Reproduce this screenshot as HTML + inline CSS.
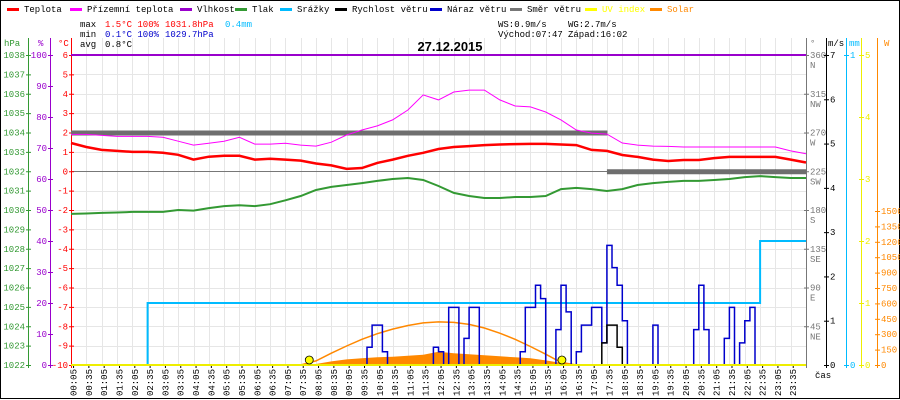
<!DOCTYPE html>
<html><head><meta charset="utf-8"><style>
html,body{margin:0;padding:0;background:#fff}
svg{display:block;font-family:"Liberation Mono",monospace;font-size:9px}
</style></head><body>
<svg id="chart" width="900" height="400" viewBox="0 0 900 400"></svg>
<script>
// ---------- data ----------
const halfHours = Array.from({length:49},(_,i)=>i*0.5); // category hours 0..24
const timeLabels = ["00:05","00:35","01:05","01:35","02:05","02:35","03:05","03:35","04:05","04:35","05:05","05:35","06:05","06:35","07:05","07:35","08:05","08:35","09:05","09:35","10:05","10:35","11:05","11:35","12:05","12:35","13:05","13:35","14:05","14:35","15:05","15:35","16:05","16:35","17:05","17:35","18:05","18:35","19:05","19:35","20:05","20:35","21:05","21:35","22:05","22:35","23:05","23:35"];
const temperature = [1.46,1.25,1.1,1.05,1.0,1.0,0.95,0.85,0.6,0.75,0.8,0.8,0.6,0.65,0.6,0.55,0.4,0.3,0.12,0.17,0.43,0.6,0.8,0.95,1.15,1.25,1.3,1.35,1.38,1.4,1.41,1.41,1.38,1.35,1.1,1.05,0.84,0.74,0.6,0.53,0.58,0.58,0.68,0.74,0.74,0.74,0.74,0.6,0.45];
const apparentTemp = [1.9,1.9,1.85,1.8,1.8,1.8,1.75,1.55,1.35,1.45,1.55,1.75,1.4,1.4,1.45,1.35,1.3,1.5,1.87,2.13,2.34,2.65,3.16,3.94,3.68,4.09,4.19,4.19,3.68,3.37,3.32,3.06,2.65,2.13,1.97,1.92,1.46,1.35,1.30,1.28,1.25,1.25,1.25,1.25,1.25,1.25,1.25,1.05,0.9];
const pressure = [1029.8,1029.82,1029.85,1029.87,1029.9,1029.9,1029.9,1030.0,1029.97,1030.1,1030.2,1030.25,1030.2,1030.3,1030.5,1030.72,1031.03,1031.19,1031.29,1031.39,1031.5,1031.6,1031.65,1031.55,1031.24,1030.88,1030.72,1030.62,1030.62,1030.67,1030.67,1030.72,1031.08,1031.14,1031.08,1030.98,1031.08,1031.29,1031.39,1031.45,1031.5,1031.5,1031.55,1031.6,1031.7,1031.75,1031.7,1031.65,1031.65];
const rain = [0,0,0,0,0,0.2,0.2,0.2,0.2,0.2,0.2,0.2,0.2,0.2,0.2,0.2,0.2,0.2,0.2,0.2,0.2,0.2,0.2,0.2,0.2,0.2,0.2,0.2,0.2,0.2,0.2,0.2,0.2,0.2,0.2,0.2,0.2,0.2,0.2,0.2,0.2,0.2,0.2,0.2,0.2,0.4,0.4,0.4,0.4];
const windDir = [270,270,270,270,270,270,270,270,270,270,270,270,270,270,270,270,270,270,270,270,270,270,270,270,270,270,270,270,270,270,270,270,270,270,270,225,225,225,225,225,225,225,225,225,225,225,225,225];
const solar = [0,0,0,0,0,0,0,0,0,0,0,0,0,0,0,0,10,35,55,65,75,80,90,100,130,115,105,95,85,75,65,45,20,5,0,0,0,0,0,0,0,0,0,0,0,0,0,0,0];
const solarTheory = [0,0,0,0,0,0,0,0,0,0,0,0,0,0,0,0,40,115,185,250,305,350,385,410,420,415,395,360,310,250,180,105,25,0,0,0,0,0,0,0,0,0,0,0,0,0,0,0,0];
const gustIdx = [58,59,60,61,71,72,74,75,77,78,79,88,89,90,91,92,95,96,97,99,100,101,102,103,104,105,106,107,108,114,122,123,124,128,129,131,132,133];
const gustVal = [0.4,0.9,0.9,0.3,0.4,0.3,1.3,1.3,0.6,1.3,1.3,0.3,1.3,1.3,1.8,1.5,0.8,1.8,1.2,0.3,0.9,0.9,1.3,1.3,0.5,2.7,2.2,1.8,1.0,0.9,0.8,1.8,0.8,0.6,1.3,0.5,1.0,1.3];
const speedIdx = [104,105,106,107];
const speedVal = [0.5,0.9,0.9,0.4];
const sunEvents = [7.78,16.03];

// ---------- scales ----------
const X0=71, X1=806, YT=55, YB=365;
const xH = h => X0 + h*(X1-X0)/24;
const yC = t => YT + (6-t)*(YB-YT)/16;
const yP = p => YB - (p-1022)*(YB-YT)/16;
const yPct = v => YB - v*(YB-YT)/100;
const yDeg = d => YB - d*(YB-YT)/360;
const yMs = v => YB - v*(YB-YT)/7;
const yMm = v => YB - v*(YB-YT)/1;
const yUv = v => YB - v*(YB-YT)/5;
const yW = v => YB - v*(365-211)/1500;

const svg=document.getElementById('chart');
const NS='http://www.w3.org/2000/svg';
function el(tag,attrs,parent){const e=document.createElementNS(NS,tag);for(const k in attrs)e.setAttribute(k,attrs[k]);(parent||svg).appendChild(e);return e;}
function txt(x,y,s,fill,anchor,parent){const t=el('text',{x:x,y:y,fill:fill,'text-anchor':anchor||'start'},parent);t.textContent=s;return t;}

// frame
let fr=el('rect',{x:0.5,y:0.5,width:899,height:398,fill:'#fff',stroke:'#000'});



// grid
const grid=el('g',{});


for(let k=1;k<48;k++){const x=Math.round(xH(k*0.5))+0.5;el('line',{x1:x,x2:x,y1:38,y2:YB,stroke:'#e6e6e6'},grid);}
for(let t=-9;t<=5;t++){const y=Math.round(yC(t))+0.5;el('line',{x1:X0,x2:X1,y1:y,y2:y,stroke:t===0?'#777':'#e6e6e6'},grid);}

// legend
const legend=[["Teplota","#f00",7],["Přízemní teplota","#f0f",70],["Vlhkost","#90c",180],["Tlak","#393",235],["Srážky","#0bf",280],["Rychlost větru","#000",335],["Náraz větru","#00c",430],["Směr větru","#777",510],["UV index","#ff0",585],["Solar","#f80",650]];
const lg=el('g',{});


legend.forEach(l=>{
  const g=el('g',{},lg);
  
  
  el('rect',{x:l[2],y:8,width:12,height:3,fill:l[1]},g);
  txt(l[2]+17,12,l[0],(l[1]==='#ff0'||l[1]==='#f80')?l[1]:'#000','start',g);
});

// stats
const st=el('g',{});


txt(80,27,"max","#000",'start',st);txt(105,27,"1.5°C 100%","#f00",'start',st);txt(165,27,"1031.8hPa","#f00",'start',st);txt(225,27,"0.4mm","#0bf",'start',st);
txt(80,37,"min","#000",'start',st);txt(105,37,"0.1°C 100%","#00c",'start',st);txt(165,37,"1029.7hPa","#00c",'start',st);
txt(80,47,"avg","#000",'start',st);txt(105,47,"0.8°C","#000",'start',st);
txt(498,27,"WS:0.9m/s","#000",'start',st);txt(568,27,"WG:2.7m/s","#000",'start',st);
txt(498,37,"Východ:07:47","#000",'start',st);txt(568,37,"Západ:16:02","#000",'start',st);
const ti=txt(450,51,"27.12.2015","#000",'middle');
ti.setAttribute('style','font-size:13px;font-weight:bold;font-family:"Liberation Sans",sans-serif');



// axes
function axis(name,x,color,ticks,yf,side,labels){
  const g=el('g',{});
  
  
  el('line',{x1:x+0.5,x2:x+0.5,y1:38,y2:YB+3,stroke:color},g);
  ticks.forEach((v,i)=>{const y=yf(v);el('line',{x1:x-2,x2:x+3,y1:y+0.5,y2:y+0.5,stroke:color},g);
    const s=labels?labels[i]:String(v);
    if(side==='l')txt(x-3,y+3,s,color,'end',g);else txt(x+4,y+3,s,color,'start',g);});
  return g;
}
const hpaTicks=[];for(let p=1022;p<=1038;p++)hpaTicks.push(p);
axis('pressure-axis',28,'#393',hpaTicks,yP,'l');
const pctTicks=[];for(let v=0;v<=100;v+=10)pctTicks.push(v);
axis('humidity-axis',50,'#90c',pctTicks,yPct,'l');
const cTicks=[];for(let t=-10;t<=6;t++)cTicks.push(t);
const ca=axis('temperature-axis',71,'#f00',cTicks,yC,'l');
const degTicks=[45,90,135,180,225,270,315,360];const dirNames=["NE","E","SE","S","SW","W","NW","N"];
const da=axis('direction-axis',806,'#777',degTicks,yDeg,'r');
degTicks.forEach((d,i)=>txt(810,yDeg(d)+13,dirNames[i],'#777','start',da));
axis('wind-speed-axis',826,'#000',[0,1,2,3,4,5,6,7],yMs,'r');
axis('rain-axis',846,'#0bf',[0,1],yMm,'r');
axis('uv-axis',861,'#ee0',[0,1,2,3,4,5],yUv,'r');
const wTicks=[];for(let w=0;w<=1500;w+=150)wTicks.push(w);
axis('solar-axis',877,'#f80',wTicks,yW,'r');
const units=[["hPa",4,'#393'],["%",38,'#90c'],["°C",58,'#f00'],["°",810,'#777'],["m/s",828,'#000'],["mm",849,'#0bf'],["W",884,'#f80']];
units.forEach(u=>{const t=txt(u[1],46,u[0],u[2]);});

// time axis
const ta=el('g',{});


timeLabels.forEach((s,i)=>{const x=xH(i*0.5+5/60);el('line',{x1:x,x2:x,y1:YB,y2:YB+3,stroke:'#000'},ta);
  const t=txt(0,0,s,'#000','end',ta);t.setAttribute('transform',`translate(${x+3},${YB+4}) rotate(-90)`);});
txt(815,378,"čas","#000",'start',ta);

// humidity line
let hl=el('line',{x1:X0,x2:X1,y1:yPct(100),y2:yPct(100),stroke:'#90c','stroke-width':2});



// wind direction bars
const wd=el('g',{});


windDir.forEach((d,i)=>{el('rect',{x:xH(i*0.5),y:yDeg(d)-2,width:xH(0.5)-xH(0)+0.5,height:5,fill:'#6e6e6e'},wd);});

function path(vals,xf,yf,color,w,name){
  const d=vals.map((v,i)=>(i?'L':'M')+xf(i).toFixed(1)+','+yf(v).toFixed(1)).join('');
  const p=el('path',{d:d,fill:'none',stroke:color,'stroke-width':w});
  
  
  return p;
}
// solar actual area
{
  let d='M'+xH(0)+','+YB;
  solar.forEach((v,i)=>{d+='L'+xH(halfHours[i]).toFixed(1)+','+yW(v).toFixed(1);});
  d+='L'+xH(24)+','+YB+'Z';
  const a=el('path',{d:d,fill:'#f80'});
  
  
}
path(solarTheory,i=>xH(halfHours[i]),yW,'#f80',1.5,'solar-theory-line');
// rain step
{
  let d='M'+xH(0)+','+yMm(rain[0]);
  rain.forEach((v,i)=>{if(i>0){d+='L'+xH(halfHours[i]).toFixed(1)+','+yMm(rain[i-1]).toFixed(1);}d+='L'+xH(halfHours[i]).toFixed(1)+','+yMm(v).toFixed(1);});
  const p=el('path',{d:d,fill:'none',stroke:'#0bf','stroke-width':2});
  
  
}
path(pressure,i=>xH(halfHours[i]),yP,'#393',2,'pressure-line');
path(apparentTemp,i=>xH(halfHours[i]),yC,'#f0f',1,'apparent-temp-line');
path(temperature,i=>xH(halfHours[i]),yC,'#f00',2.5,'temperature-line');

// wind step series (10-min samples)
function stepSeries(idx,vals,color,name){
  const arr=new Array(145).fill(0);idx.forEach((k,j)=>arr[k]=vals[j]);
  const xi=i=>xH(i/6);
  let d='M'+xi(0)+','+yMs(0);
  for(let i=0;i<144;i++){d+='L'+xi(i).toFixed(1)+','+yMs(arr[i]).toFixed(1)+'L'+xi(i+1).toFixed(1)+','+yMs(arr[i]).toFixed(1);}
  const p=el('path',{d:d,fill:'none',stroke:color,'stroke-width':1.5});
  
  
}
stepSeries(gustIdx,gustVal,'#00c','wind-gust-line');
stepSeries(speedIdx,speedVal,'#000','wind-speed-line');

// uv baseline
let uv=el('line',{x1:X0,x2:X1,y1:YB,y2:YB,stroke:'#ee0','stroke-width':2});


// sun markers
sunEvents.forEach(h=>{const c=el('circle',{cx:xH(h),cy:YB-5,r:4,fill:'#ff0',stroke:'#000','stroke-width':0.8});
  
  });
</script>
</body></html>
